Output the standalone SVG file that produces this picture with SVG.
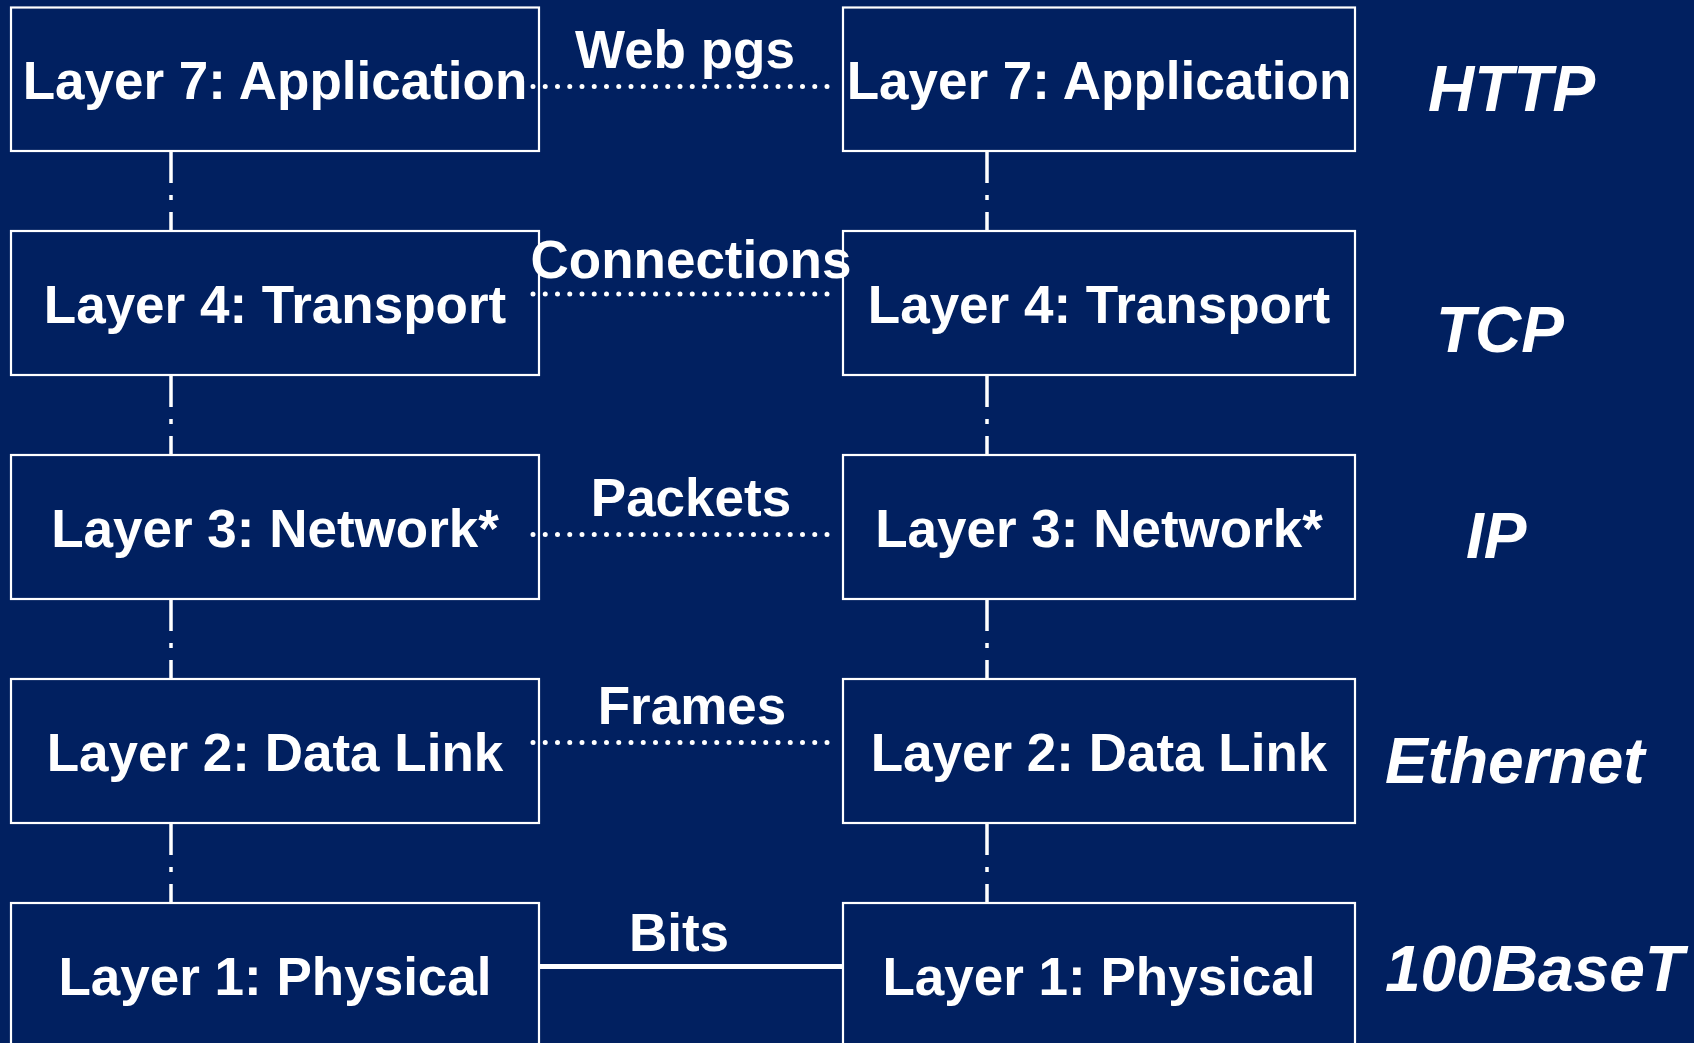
<svg xmlns="http://www.w3.org/2000/svg" width="1694" height="1043" viewBox="0 0 1694 1043">
<style>
.box{fill:#012060;stroke:#ffffff;stroke-width:2.2}
.lt{font-family:"Liberation Sans",Arial,sans-serif;font-weight:bold;font-size:53px;fill:#ffffff;text-anchor:middle}
.el{font-family:"Liberation Sans",Arial,sans-serif;font-weight:bold;font-size:53px;fill:#ffffff;text-anchor:middle}
.pr{font-family:"Liberation Sans",Arial,sans-serif;font-weight:bold;font-style:italic;font-size:64px;fill:#ffffff}
.vc{stroke:#ffffff;stroke-width:3.5;stroke-dasharray:32 12 5 12;fill:none}
.dot{stroke:#ffffff;stroke-width:5;stroke-linecap:round;stroke-dasharray:0 12.25;fill:none}
.solid{stroke:#ffffff;stroke-width:5;fill:none}
</style>
<rect x="0" y="0" width="1694" height="1043" fill="#012060"/>
<g id="left-l7"><rect class="box" x="11" y="7.5" width="528" height="143.5"/><text class="lt" x="275" y="99">Layer 7: Application</text></g>
<g id="left-l4"><rect class="box" x="11" y="231" width="528" height="144"/><text class="lt" x="275" y="323">Layer 4: Transport</text></g>
<g id="left-l3"><rect class="box" x="11" y="455" width="528" height="144"/><text class="lt" x="275" y="547">Layer 3: Network*</text></g>
<g id="left-l2"><rect class="box" x="11" y="679" width="528" height="144"/><text class="lt" x="275" y="771">Layer 2: Data Link</text></g>
<g id="left-l1"><rect class="box" x="11" y="903" width="528" height="144"/><text class="lt" x="275" y="995">Layer 1: Physical</text></g>
<g id="right-l7"><rect class="box" x="843" y="7.5" width="512" height="143.5"/><text class="lt" x="1099" y="99">Layer 7: Application</text></g>
<g id="right-l4"><rect class="box" x="843" y="231" width="512" height="144"/><text class="lt" x="1099" y="323">Layer 4: Transport</text></g>
<g id="right-l3"><rect class="box" x="843" y="455" width="512" height="144"/><text class="lt" x="1099" y="547">Layer 3: Network*</text></g>
<g id="right-l2"><rect class="box" x="843" y="679" width="512" height="144"/><text class="lt" x="1099" y="771">Layer 2: Data Link</text></g>
<g id="right-l1"><rect class="box" x="843" y="903" width="512" height="144"/><text class="lt" x="1099" y="995">Layer 1: Physical</text></g>
<g id="connectors">
<line class="vc" x1="171" y1="151" x2="171" y2="231"/>
<line class="vc" x1="171" y1="375" x2="171" y2="455"/>
<line class="vc" x1="171" y1="599" x2="171" y2="679"/>
<line class="vc" x1="171" y1="823" x2="171" y2="903"/>
<line class="vc" x1="987" y1="151" x2="987" y2="231"/>
<line class="vc" x1="987" y1="375" x2="987" y2="455"/>
<line class="vc" x1="987" y1="599" x2="987" y2="679"/>
<line class="vc" x1="987" y1="823" x2="987" y2="903"/>
<line class="dot" x1="533" y1="86.5" x2="828" y2="86.5"/>
<line class="dot" x1="533" y1="294" x2="828" y2="294"/>
<line class="dot" x1="533" y1="534.5" x2="828" y2="534.5"/>
<line class="dot" x1="533" y1="742.5" x2="828" y2="742.5"/>
<line class="solid" x1="539" y1="966.5" x2="843" y2="966.5"/>
<text class="el" x="685" y="68">Web pgs</text>
<text class="el" x="691" y="278">Connections</text>
<text class="el" x="691" y="516">Packets</text>
<text class="el" x="692" y="724">Frames</text>
<text class="el" x="679" y="951">Bits</text>
</g>
<g id="protocols">
<text class="pr" x="1428" y="111">HTTP</text>
<text class="pr" x="1436" y="352">TCP</text>
<text class="pr" x="1466" y="558">IP</text>
<text class="pr" x="1385" y="783">Ethernet</text>
<text class="pr" x="1385" y="991">100BaseT</text>
</g>
</svg>
